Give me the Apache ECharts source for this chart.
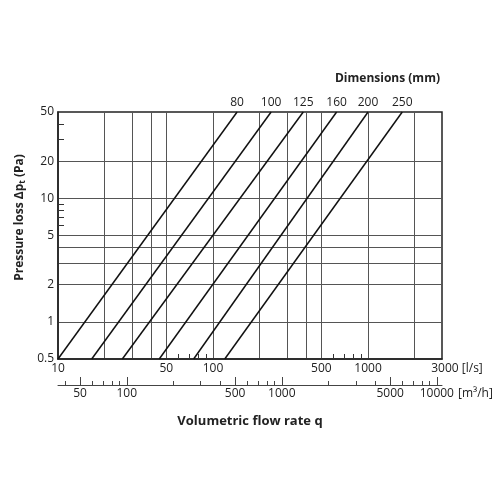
<!DOCTYPE html>
<html>
<head>
<meta charset="utf-8">
<script src="https://cdn.jsdelivr.net/npm/echarts@6/dist/echarts.min.js"></script>
<style>html,body{margin:0;padding:0;background:#fff}#chart{width:500px;height:500px}</style>
</head>
<body>
<div id="chart"></div>
<script>
// duct dimensions and flow (l/s) where each line meets 0.5 Pa and 50 Pa
var dimensions = ['80', '100', '125', '160', '200', '250'];
var flowAtMin = [10, 16.5, 26, 45, 75, 119];
var flowAtMax = [143, 237, 382, 627, 1000, 1662];
var pressureRange = [0.5, 50];

// l/s axis
var lsRange = [10, 3000];
var lsLabels = [10, 50, 100, 500, 1000, 3000];
var lsMinorTicks = [60, 70, 80, 90, 600, 700, 800, 900];
var lsGrid = [20, 30, 40, 50, 100, 200, 300, 400, 500, 1000, 2000];

// m3/h axis (1 l/s = 3.6 m3/h)
var m3hRange = [36, 10800];
var m3hLabels = [50, 100, 500, 1000, 5000, 10000];
var m3hMinorTicks = [40, 60, 70, 80, 90, 200, 300, 400, 600, 700, 800, 900, 2000, 3000, 4000, 6000, 7000, 8000, 9000];

// Pa axis
var paLabels = [0.5, 1, 2, 5, 10, 20, 50];
var paMinorTicks = [6, 7, 8, 9, 30, 40];
var paGrid = [1, 2, 3, 4, 5, 10, 20];

var FONT = 'Open Sans';
var txt = '#222';

function num(v) {
    return String(+Number(v).toPrecision(6));
}

var myChart = echarts.init(document.getElementById('chart'));

var series = dimensions.map(function (d, i) {
    return {
        type: 'line',
        name: d,
        xAxisIndex: 0,
        yAxisIndex: 0,
        symbol: 'circle',
        symbolSize: 0,
        silent: true,
        animation: false,
        lineStyle: { color: '#111', width: 1.5 },
        label: { color: txt, fontSize: 12, fontFamily: FONT },
        data: [
            [flowAtMin[i], pressureRange[0]],
            {
                value: [flowAtMax[i], pressureRange[1]],
                label: { show: true, position: 'top', distance: 3, formatter: d }
            }
        ]
    };
});

var option = {
    animation: false,
    title: {
        text: 'Dimensions (mm)',
        right: 55,
        top: 68,
        textStyle: { fontSize: 12, fontWeight: 'bold', color: txt, fontFamily: FONT }
    },
    grid: {
        left: 58, right: 58, top: 112, bottom: 141,
        show: true, borderColor: '#222', borderWidth: 1.5
    },
    xAxis: [
        {   // l/s, main axis
            type: 'log', min: lsRange[0], max: lsRange[1], position: 'bottom',
            axisLine: { show: true, lineStyle: { color: '#222', width: 1.5 } },
            axisTick: { customValues: lsMinorTicks, inside: true, length: 5, lineStyle: { color: '#333' } },
            axisLabel: {
                customValues: lsLabels, margin: 4, color: txt, fontSize: 12, fontFamily: FONT,
                formatter: function (v) {
                    if (Math.round(v) === 3000) return '{pad| }3000 [l/s]';
                    return num(v);
                },
                rich: { pad: { width: 30 } }
            },
            splitLine: { show: false }
        },
        {   // m3/h, major ticks + labels
            type: 'log', min: m3hRange[0], max: m3hRange[1], position: 'bottom', offset: 26,
            axisLine: { show: true, lineStyle: { color: '#444', width: 1 } },
            axisTick: { customValues: m3hLabels, inside: true, length: 8, lineStyle: { color: '#444' } },
            axisLabel: {
                customValues: m3hLabels, margin: 3, color: txt, fontSize: 12, fontFamily: FONT,
                showMaxLabel: true,
                formatter: num
            },
            splitLine: { show: false },
            name: 'Volumetric flow rate q',
            nameLocation: 'middle',
            nameGap: 30,
            nameTextStyle: { fontSize: 13, fontWeight: 'bold', color: txt, fontFamily: FONT }
        },
        {   // m3/h, minor ticks + unit
            type: 'log', min: m3hRange[0], max: m3hRange[1], position: 'bottom', offset: 26,
            axisLine: { show: false },
            axisTick: { customValues: m3hMinorTicks, inside: true, length: 4, lineStyle: { color: '#444' } },
            axisLabel: { show: false },
            splitLine: { show: false },
            name: '[m³/h]',
            nameLocation: 'end',
            nameGap: 16,
            nameTextStyle: { fontSize: 12, color: txt, fontFamily: FONT, verticalAlign: 'top', padding: [3, 0, 0, 0] }
        },
        {   // vertical grid
            type: 'log', min: lsRange[0], max: lsRange[1], position: 'bottom',
            axisLine: { show: false },
            axisTick: { show: false, customValues: lsGrid },
            axisLabel: { show: false },
            splitLine: { show: true, lineStyle: { color: '#555', width: 1 } }
        }
    ],
    yAxis: [
        {
            type: 'log', min: pressureRange[0], max: pressureRange[1], position: 'left',
            axisLine: { show: true, lineStyle: { color: '#222', width: 1.5 } },
            axisTick: { customValues: paMinorTicks, inside: true, length: 6, lineStyle: { color: '#333' } },
            axisLabel: {
                customValues: paLabels, margin: 4, color: txt, fontSize: 12, fontFamily: FONT,
                formatter: num
            },
            splitLine: { show: false },
            name: 'Pressure loss Δp{s|t} (Pa)',
            nameLocation: 'middle',
            nameRotate: 90,
            nameGap: 27,
            nameTextStyle: {
                fontSize: 12, fontWeight: 'bold', color: txt, fontFamily: FONT,
                padding: [0, 0, 0, 36],
                rich: {
                    s: { fontSize: 8, fontWeight: 'bold', color: txt, fontFamily: FONT, verticalAlign: 'bottom', padding: [6, 0, 0, 0] }
                }
            }
        },
        {   // horizontal grid
            type: 'log', min: pressureRange[0], max: pressureRange[1], position: 'left',
            axisLine: { show: false },
            axisTick: { show: false, customValues: paGrid },
            axisLabel: { show: false },
            splitLine: { show: true, lineStyle: { color: '#555', width: 1 } }
        }
    ],
    series: series
};
myChart.setOption(option);
</script>
</body>
</html>
